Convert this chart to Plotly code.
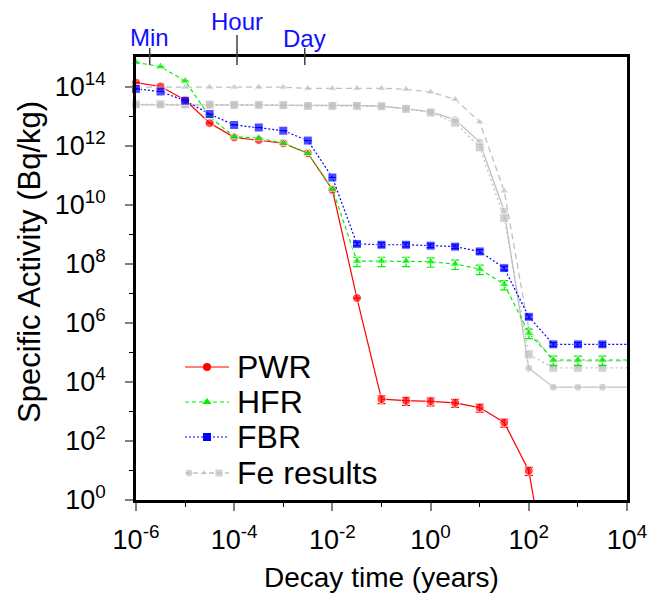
import math
import plotly.graph_objects as go

# ---------------- data ----------------
t_years = [1e-6, 3.16e-6, 1e-5, 3.16e-5, 1e-4, 3.16e-4, 1e-3, 3.16e-3, 1e-2, 3.16e-2,
           0.1, 0.316, 1, 3.16, 10, 31.6, 100, 316, 1000, 3160, 31600]

pwr = [1.35e14, 1.0e14, 3.5e13, 5.8e12, 1.9e12, 1.55e12, 1.2e12, 5.5e11, 3.2e10, 6.9e6,
       2.6e3, 2.3e3, 2.2e3, 1.95e3, 1.35e3, 4.2e2, 9.8, 1.6e-4]
hfr = [6.6e14, 4.7e14, 1.55e14, 9.5e12, 2.0e12, 1.8e12, 1.2e12, 5.5e11, 3.4e10, 1.23e8,
       1.23e8, 1.23e8, 1.17e8, 9.8e7, 6.6e7, 2.0e7, 4.5e5, 5.5e4, 5.5e4, 5.5e4, 5.5e4]
fbr = [8.3e13, 6.8e13, 3.3e13, 1.17e13, 5.0e12, 4.1e12, 3.2e12, 1.48e12, 8.3e10, 4.7e8,
       4.4e8, 4.4e8, 4.1e8, 3.8e8, 2.6e8, 7.1e7, 1.6e6, 1.86e5, 1.86e5, 1.86e5, 1.86e5]

fe_pwr = [2.4e13, 2.4e13, 2.35e13, 2.35e13, 2.35e13, 2.35e13, 2.3e13, 2.3e13, 2.3e13, 2.3e13,
          2.15e13, 1.8e13, 1.38e13, 7.6e12, 1.32e12, 6.0e9, 2.9e4, 6.6e3, 6.6e3, 6.6e3, 6.6e3]
fe_hfr = [9.5e13, 9.5e13, 9.5e13, 9.5e13, 9.5e13, 9.5e13, 9.5e13, 8.7e13, 8.7e13, 8.7e13,
          8.7e13, 8.1e13, 6.5e13, 3.7e13, 6.3e12, 2.9e10, 6.2e5, 5.1e4, 5.1e4, 5.1e4, 5.1e4]
fe_fbr = [2.5e13, 2.5e13, 2.5e13, 2.45e13, 2.4e13, 2.4e13, 2.35e13, 2.2e13, 2.2e13, 2.2e13,
          2.15e13, 1.75e13, 1.32e13, 6.0e12, 8.7e11, 3.5e9, 8.5e4, 3.0e4, 3.0e4, 3.0e4, 3.0e4]

# relative uncertainties (fraction of value)
pwr_err = [0] * 10 + [0.3] * 7 + [0]
hfr_err = [0] * 9 + [0.35] * 12
fbr_err = [0] * 9 + [0.15] * 12

x_tickvals = [1e-6, 1e-4, 1e-2, 1, 1e2, 1e4]
x_ticktext = ["10<sup>-6</sup>", "10<sup>-4</sup>", "10<sup>-2</sup>", "10<sup>0</sup>",
              "10<sup>2</sup>", "10<sup>4</sup>"]
x_minor = [1e-5, 1e-3, 1e-1, 1e1, 1e3]
y_tickvals = [1, 1e2, 1e4, 1e6, 1e8, 1e10, 1e12, 1e14]
y_ticktext = ["10<sup>0</sup>", "10<sup>2</sup>", "10<sup>4</sup>", "10<sup>6</sup>",
              "10<sup>8</sup>", "10<sup>10</sup>", "10<sup>12</sup>", "10<sup>14</sup>"]
y_minor = [1e1, 1e3, 1e5, 1e7, 1e9, 1e11, 1e13]

top_labels = ["Min", "Hour", "Day"]
top_times = [1 / (365.25 * 24 * 60), 1 / (365.25 * 24), 1 / 365.25]  # in years

legend_labels = ["PWR", "HFR", "FBR", "Fe results"]

# ---------------- layout geometry ----------------
W, H = 659, 594
L, R, T, B = 136, 32, 57, 94
PW, PH = W - L - R, H - T - B
XR = [-6, 4]
YR = [0, 15]
FONT = "Liberation Sans, Arial, sans-serif"


def fx(px):
    return (px - L) / PW


def fy(py):
    return (H - B - py) / PH


def inside(t, v):
    lt = math.log10(t)
    return XR[0] <= lt <= XR[1] and v >= 10 ** YR[0]


def sizes(xs, ys, s):
    return [s if inside(t, v) else 0 for t, v in zip(xs, ys)]


def errs(xs, ys, rel):
    return [v * r if inside(t, v) else 0 for t, v, r in zip(xs, ys, rel)]


fig = go.Figure()

GRAY = "#c0c0c0"
RED = "#ff0000"
GREEN = "#00f000"
BLUE = "#0000ff"

# Fe results (gray, under)
fig.add_trace(go.Scatter(x=t_years, y=fe_pwr, mode="lines+markers", cliponaxis=False,
                         line=dict(color=GRAY, width=1.3),
                         marker=dict(symbol="circle", color=GRAY, size=sizes(t_years, fe_pwr, 8)),
                         showlegend=False))
fig.add_trace(go.Scatter(x=t_years, y=fe_fbr, mode="lines+markers", cliponaxis=False,
                         line=dict(color=GRAY, width=1.3, dash="2px,3px"),
                         marker=dict(symbol="square", color=GRAY, size=sizes(t_years, fe_fbr, 9)),
                         showlegend=False))
fig.add_trace(go.Scatter(x=t_years, y=fe_hfr, mode="lines+markers", cliponaxis=False,
                         line=dict(color=GRAY, width=1.3, dash="6px,4px"),
                         marker=dict(symbol="triangle-up", color=GRAY, size=sizes(t_years, fe_hfr, 8)),
                         showlegend=False))

# colored series
tp = t_years[:len(pwr)]
fig.add_trace(go.Scatter(x=tp, y=pwr, mode="lines+markers", cliponaxis=False,
                         line=dict(color=RED, width=1.2),
                         marker=dict(symbol="circle", color=RED, size=sizes(tp, pwr, 9)),
                         error_y=dict(type="data", array=errs(tp, pwr, pwr_err), color=RED,
                                      thickness=1.2, width=4),
                         showlegend=False))
fig.add_trace(go.Scatter(x=t_years, y=hfr, mode="lines+markers", cliponaxis=False,
                         line=dict(color=GREEN, width=1.2, dash="4px,3px"),
                         marker=dict(symbol="triangle-up", color=GREEN, size=sizes(t_years, hfr, 9)),
                         error_y=dict(type="data", array=errs(t_years, hfr, hfr_err), color=GREEN,
                                      thickness=1.2, width=4),
                         showlegend=False))
fig.add_trace(go.Scatter(x=t_years, y=fbr, mode="lines+markers", cliponaxis=False,
                         line=dict(color=BLUE, width=1.2, dash="2px,2px"),
                         marker=dict(symbol="square", color=BLUE, size=sizes(t_years, fbr, 9)),
                         error_y=dict(type="data", array=errs(t_years, fbr, fbr_err), color=BLUE,
                                      thickness=1.2, width=4),
                         showlegend=False))

# ---------------- manual legend (auxiliary axes) ----------------
leg_y = [367, 402, 437, 473]
lx0, lx1, lxm = fx(185), fx(229), fx(207)
leg_styles = [
    (RED, "solid", "circle", 8),
    (GREEN, "4px,3px", "triangle-up", 8),
    (BLUE, "2px,2px", "square", 8),
]
for (col, dash, sym, sz), py in zip(leg_styles, leg_y[:3]):
    fig.add_trace(go.Scatter(x=[lx0, lx1], y=[fy(py)] * 2, mode="lines", xaxis="x2", yaxis="y2",
                             line=dict(color=col, width=1.2, dash=dash), showlegend=False,
                             hoverinfo="skip"))
    fig.add_trace(go.Scatter(x=[lxm], y=[fy(py)], mode="markers", xaxis="x2", yaxis="y2",
                             marker=dict(color=col, symbol=sym, size=sz), showlegend=False,
                             hoverinfo="skip"))
fig.add_trace(go.Scatter(x=[lx0, lx1], y=[fy(leg_y[3])] * 2, mode="lines", xaxis="x2", yaxis="y2",
                         line=dict(color=GRAY, width=1.3, dash="5px,3px"), showlegend=False,
                         hoverinfo="skip"))
fig.add_trace(go.Scatter(x=[fx(189), fx(204), fx(219)], y=[fy(leg_y[3])] * 3, mode="markers",
                         xaxis="x2", yaxis="y2",
                         marker=dict(color=GRAY, symbol=["circle", "triangle-up", "square"],
                                     size=[8, 7, 8]),
                         showlegend=False, hoverinfo="skip"))

annotations = []
for lab, py in zip(legend_labels, leg_y):
    annotations.append(dict(text=lab, xref="paper", yref="paper", x=fx(235), y=fy(py),
                            xanchor="left", yanchor="middle", showarrow=False,
                            font=dict(family=FONT, size=32, color="black")))

# axis titles
annotations.append(dict(text="Decay time (years)", xref="paper", yref="paper", x=0.5, y=fy(577),
                        xanchor="center", yanchor="middle", showarrow=False,
                        font=dict(family=FONT, size=28, color="black")))
annotations.append(dict(text="Specific Activity (Bq/kg)", xref="paper", yref="paper",
                        x=fx(29), y=fy(262), xanchor="center", yanchor="middle",
                        textangle=-90, showarrow=False,
                        font=dict(family=FONT, size=31, color="black")))

# top time markers
shapes = []
top_label_y = [38, 21, 39]
top_tick_top = [48, 35, 48]
for lab, tt, ly, tk in zip(top_labels, top_times, top_label_y, top_tick_top):
    xf = (math.log10(tt) - XR[0]) / (XR[1] - XR[0])
    shapes.append(dict(type="line", xref="paper", yref="paper", x0=xf, x1=xf,
                       y0=fy(65), y1=fy(tk), line=dict(color="#404040", width=1.5)))
    annotations.append(dict(text=lab, xref="paper", yref="paper", x=xf, y=fy(ly),
                            xanchor="center", yanchor="middle", showarrow=False,
                            font=dict(family=FONT, size=24, color="#1010ff")))

fig.update_layout(
    width=W, height=H,
    margin=dict(l=L, r=R, t=T, b=B),
    paper_bgcolor="white", plot_bgcolor="white",
    font=dict(family=FONT, color="black"),
    showlegend=False,
    xaxis=dict(type="log", range=XR, tickmode="array", tickvals=x_tickvals, ticktext=x_ticktext,
               ticks="outside", ticklen=8, tickwidth=2, tickcolor="#808080",
               minor=dict(tickmode="array", tickvals=x_minor, ticks="outside", ticklen=4,
                          tickwidth=1, tickcolor="black"),
               showline=True, linecolor="black", linewidth=2.5, mirror=True,
               showgrid=False, zeroline=False, ticklabelstandoff=6,
               tickfont=dict(family=FONT, size=27, color="black")),
    yaxis=dict(type="log", range=YR, tickmode="array", tickvals=y_tickvals, ticktext=y_ticktext,
               ticks="outside", ticklen=8, tickwidth=2, tickcolor="#808080",
               minor=dict(tickmode="array", tickvals=y_minor, ticks="outside", ticklen=4,
                          tickwidth=1, tickcolor="black"),
               showline=True, linecolor="black", linewidth=2.5, mirror=True,
               showgrid=False, zeroline=False, ticklabelstandoff=14,
               tickfont=dict(family=FONT, size=27, color="black")),
    xaxis2=dict(overlaying="x", anchor="y2", range=[0, 1], visible=False, fixedrange=True),
    yaxis2=dict(overlaying="y", anchor="x2", range=[0, 1], visible=False, fixedrange=True),
    annotations=annotations,
    shapes=shapes,
)

fig.write_html("out.html", config={"displayModeBar": False},
               post_script="document.body.style.margin='0';document.body.style.padding='0';")
